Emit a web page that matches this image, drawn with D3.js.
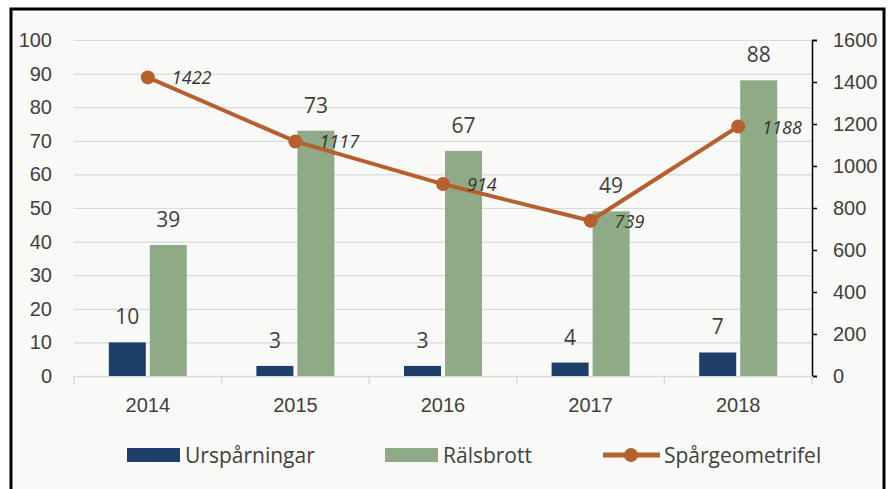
<!DOCTYPE html>
<html>
<head>
<meta charset="utf-8">
<script src="https://cdn.jsdelivr.net/npm/d3@7"></script>
<style>
  body { margin: 0; background: #fff; }
  svg { display: block; font-family: "Open Sans", "Liberation Sans", sans-serif; }
</style>
</head>
<body>
<svg width="888" height="489"></svg>
<script>
const years = ["2014", "2015", "2016", "2017", "2018"];
const ursparningar = [10, 3, 3, 4, 7];
const ralsbrott = [39, 73, 67, 49, 88];
const spargeometrifel = [1422, 1117, 914, 739, 1188];
const leftTicks = [0, 10, 20, 30, 40, 50, 60, 70, 80, 90, 100];
const rightTicks = [0, 200, 400, 600, 800, 1000, 1200, 1400, 1600];

const colors = { urs: "#1f3f6b", rals: "#8faa87", spar: "#b5602e", text: "#404040" };

const margin = { top: 40, left: 74, right: 76, bottom: 113 };
const W = 888, H = 489;
const width = W - margin.left - margin.right;
const height = H - margin.top - margin.bottom;

const svg = d3.select("svg");

// background + frame
svg.append("rect").attr("x", 11).attr("y", 9).attr("width", 873).attr("height", 490)
    .attr("fill", "#f9faf8").attr("stroke", "#000").attr("stroke-width", 3);

const g = svg.append("g").attr("transform", `translate(${margin.left},${margin.top})`);

const x = d3.scaleBand().domain(years).range([0, width]);
const yL = d3.scaleLinear().domain([0, 100]).range([height, 0]);
const yR = d3.scaleLinear().domain([0, 1600]).range([height, 0]);

// gridlines
g.append("g")
    .call(d3.axisLeft(yL).tickValues(leftTicks).tickSize(-width).tickFormat(""))
    .call(a => a.select(".domain").remove())
    .selectAll("line").attr("stroke", "#d9d9d9").attr("stroke-width", 1.2);

// left axis labels
g.append("g")
    .call(d3.axisLeft(yL).tickValues(leftTicks).tickSize(0).tickPadding(22))
    .call(a => a.select(".domain").remove())
    .selectAll("text").attr("fill", colors.text).style("font-size", "20px");

// right axis
const rAxis = g.append("g").attr("transform", `translate(${width},0)`)
    .call(d3.axisRight(yR).tickValues(rightTicks).tickFormat(d3.format("d"))
        .tickSize(5).tickPadding(16).tickSizeOuter(5));
rAxis.select(".domain").attr("stroke", "#000").attr("stroke-width", 1.5);
rAxis.selectAll("line").attr("stroke", "#000").attr("stroke-width", 1.5);
rAxis.selectAll("text").attr("fill", colors.text).style("font-size", "20px");

// x axis
const xAxis = g.append("g").attr("transform", `translate(0,${height})`)
    .call(d3.axisBottom(x).tickSize(0).tickPadding(22));
xAxis.select(".domain").attr("stroke", "#d9d9d9").attr("stroke-width", 1.5);
xAxis.selectAll("text").attr("fill", colors.text).style("font-size", "20px");
xAxis.selectAll(".sep").data(d3.range(years.length + 1)).enter().append("line")
    .attr("x1", i => i * x.step()).attr("x2", i => i * x.step())
    .attr("y1", 0).attr("y2", 8)
    .attr("stroke", "#d9d9d9").attr("stroke-width", 1.5);

// bars
const barW = 37, gap = 4;
const series = [
    { key: "urs", values: ursparningar, off: -(barW + gap / 2) },
    { key: "rals", values: ralsbrott, off: gap / 2 }
];
series.forEach(s => {
    const grp = g.append("g");
    grp.selectAll("rect").data(s.values).enter().append("rect")
        .attr("x", (d, i) => x(years[i]) + x.bandwidth() / 2 + s.off)
        .attr("y", d => yL(d))
        .attr("width", barW)
        .attr("height", d => height - yL(d))
        .attr("fill", colors[s.key]);
    grp.selectAll("text").data(s.values).enter().append("text")
        .attr("x", (d, i) => x(years[i]) + x.bandwidth() / 2 + s.off + barW / 2)
        .attr("y", d => yL(d) - 18)
        .attr("text-anchor", "middle")
        .attr("fill", colors.text)
        .style("font-size", "21px")
        .text(d => d);
});

// line
const cx = (d, i) => x(years[i]) + x.bandwidth() / 2;
g.append("path").datum(spargeometrifel)
    .attr("fill", "none").attr("stroke", colors.spar).attr("stroke-width", 4)
    .attr("d", d3.line().x(cx).y(d => yR(d)));
g.selectAll(".dot").data(spargeometrifel).enter().append("circle")
    .attr("cx", cx).attr("cy", d => yR(d)).attr("r", 7).attr("fill", colors.spar);
g.selectAll(".lbl").data(spargeometrifel).enter().append("text")
    .attr("x", (d, i) => cx(d, i) + 24)
    .attr("y", d => yR(d) + 7)
    .attr("fill", "#333")
    .style("font-size", "18px").style("font-style", "italic")
    .text(d => d);

// legend
const leg = svg.append("g").attr("transform", "translate(0,455)");
const items = [
    { label: "Urspårningar", x: 127, type: "bar", color: colors.urs },
    { label: "Rälsbrott", x: 385, type: "bar", color: colors.rals },
    { label: "Spårgeometrifel", x: 603, type: "line", color: colors.spar }
];
items.forEach(it => {
    if (it.type === "bar") {
        leg.append("rect").attr("x", it.x).attr("y", -7).attr("width", 53).attr("height", 14).attr("fill", it.color);
    } else {
        leg.append("line").attr("x1", it.x).attr("x2", it.x + 57).attr("y1", 0).attr("y2", 0)
            .attr("stroke", it.color).attr("stroke-width", 5);
        leg.append("circle").attr("cx", it.x + 28).attr("cy", 0).attr("r", 7).attr("fill", it.color);
    }
    leg.append("text").attr("x", it.x + (it.type === "bar" ? 58 : 61)).attr("y", 8)
        .attr("fill", colors.text).style("font-size", "21px").text(it.label);
});
</script>
</body>
</html>
